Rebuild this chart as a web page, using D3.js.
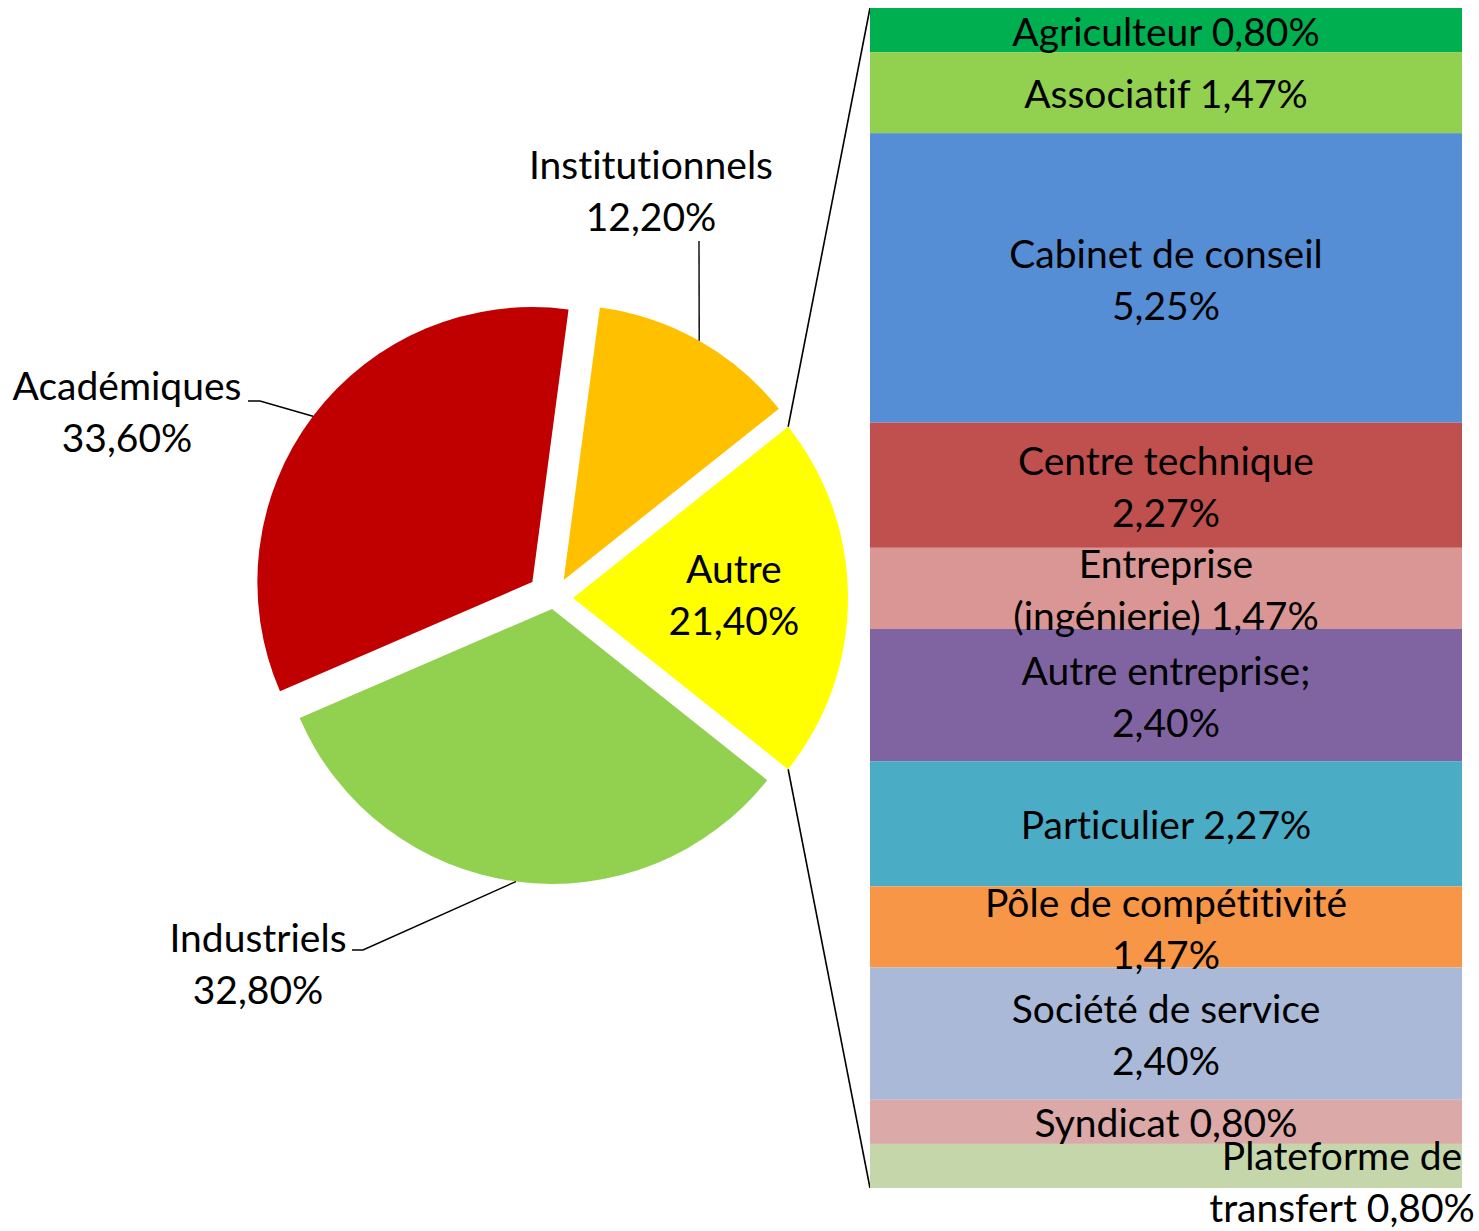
<!DOCTYPE html>
<html>
<head>
<meta charset="utf-8">
<script src="https://cdn.jsdelivr.net/npm/d3@7"></script>
<style>
  body { margin: 0; background: #fff; }
  text { font-family: Lato, "Open Sans", sans-serif; fill: #000; font-variant-ligatures: none; font-feature-settings: "liga" 0, "dlig" 0; }
</style>
</head>
<body>
<div id="chart"></div>
<script>
// pie part
var pieNames  = ["Académiques", "Institutionnels", "Autre", "Industriels"];
var pieValues = [33.60, 12.20, 21.40, 32.80];
var pieColors = ["#C00000", "#FFC000", "#FFFF00", "#92D050"];

// bar part (split of "Autre")
var barNames = ["Agriculteur", "Associatif", "Cabinet de conseil", "Centre technique",
  "Entreprise (ingénierie)", "Autre entreprise;", "Particulier", "Pôle de compétitivité",
  "Société de service", "Syndicat", "Plateforme de transfert"];
var barValues = [0.80, 1.47, 5.25, 2.27, 1.47, 2.40, 2.27, 1.47, 2.40, 0.80, 0.80];
var barColors = ["#00B050", "#92D050", "#558ED5", "#C0504D", "#D99694", "#8064A2",
  "#4BACC6", "#F79646", "#AAB9D7", "#DAA9A8", "#C5D7AA"];
var barBreakAfter = [0, 0, 3, 2, 1, 2, 0, 3, 3, 0, 2]; // words on first line, 0 = one line

var otherIndex = 2;

var width = 1479, height = 1231;
var fontSize = 39, lineH = 52;
var cx = 553.5, cy = 598, r = 275;
var explode = [26.5, 20.7, 19.5, 11];
var barLeft = 870, barRight = 1462, barTop = 8, barBottom = 1188;

var fmt = function(v) { return d3.format(".2f")(v).replace(".", ",") + "%"; };

var svg = d3.select("#chart").append("svg")
    .attr("width", width)
    .attr("height", height);

// rotate the pie so that "Autre" sits at 3 o'clock
var total = d3.sum(pieValues);
var before = d3.sum(pieValues.slice(0, otherIndex));
var start = Math.PI / 2 - 2 * Math.PI * (before + pieValues[otherIndex] / 2) / total;

var pie = d3.pie().sort(null).value(function(d) { return d; })
    .startAngle(start).endAngle(start + 2 * Math.PI);
var arcs = pie(pieValues);
var arc = d3.arc().innerRadius(0).outerRadius(r);

// apex of every exploded slice
arcs.forEach(function(a, i) {
  var m = (a.startAngle + a.endAngle) / 2;
  a.mid = m;
  a.ox = cx + explode[i] * Math.sin(m);
  a.oy = cy - explode[i] * Math.cos(m);
});

svg.append("g").selectAll("path")
  .data(arcs)
  .enter().append("path")
    .attr("transform", function(d) { return "translate(" + d.ox + "," + d.oy + ")"; })
    .attr("d", arc)
    .attr("fill", function(d, i) { return pieColors[i]; });

// connector lines from the "Autre" slice to the bar
var oth = arcs[otherIndex];
var topPt = [oth.ox + r * Math.sin(oth.startAngle), oth.oy - r * Math.cos(oth.startAngle)];
var botPt = [oth.ox + r * Math.sin(oth.endAngle), oth.oy - r * Math.cos(oth.endAngle)];
svg.append("line").attr("x1", topPt[0]).attr("y1", topPt[1]).attr("x2", barLeft).attr("y2", barTop)
  .attr("stroke", "#000").attr("stroke-width", 1.6);
svg.append("line").attr("x1", botPt[0]).attr("y1", botPt[1]).attr("x2", barLeft).attr("y2", barBottom)
  .attr("stroke", "#000").attr("stroke-width", 1.6);

// bar stack
var y = d3.scaleLinear().domain([0, d3.sum(barValues)]).range([barTop, barBottom]);
var cum = [0].concat(Array.from(d3.cumsum(barValues)));

svg.append("g").selectAll("rect")
  .data(barValues)
  .enter().append("rect")
    .attr("x", barLeft)
    .attr("width", barRight - barLeft)
    .attr("y", function(d, i) { return y(cum[i]); })
    .attr("height", function(d, i) { return y(cum[i + 1]) - y(cum[i]); })
    .attr("fill", function(d, i) { return barColors[i]; });

function multiline(g, lines, x, midY) {
  var t = g.append("text").attr("text-anchor", "middle").style("font-size", fontSize + "px");
  var first = midY - (lines.length - 1) * lineH / 2 + fontSize * 0.35;
  lines.forEach(function(l, k) {
    t.append("tspan").attr("x", x).attr("y", first + k * lineH).text(l);
  });
  return t;
}

// bar labels
var barLabelShift = { 10: [176, 14] };
var labG = svg.append("g");
barValues.forEach(function(v, i) {
  var words = (barNames[i] + " " + fmt(v)).split(" ");
  var lines = barBreakAfter[i] ? [words.slice(0, barBreakAfter[i]).join(" "), words.slice(barBreakAfter[i]).join(" ")]
                               : [words.join(" ")];
  var sh = barLabelShift[i] || [0, 0];
  var mid = (y(cum[i]) + y(cum[i + 1])) / 2 + 2;
  multiline(labG, lines, (barLeft + barRight) / 2 + sh[0], mid + sh[1]);
});

// pie labels: outside ones with leader lines
var pieLabel = {
  0: { x: 127, y: 412, path: [[248, 401], [260, 401]] },
  1: { x: 651, y: 191, path: [[699, 241]] },
  3: { x: 258, y: 964, path: [[352, 950], [363, 950]] }
};
arcs.forEach(function(a, i) {
  var lines = [pieNames[i], fmt(pieValues[i])];
  if (i === otherIndex) {
    multiline(svg, lines, a.ox + 0.585 * r, a.oy - 3);
    return;
  }
  var L = pieLabel[i];
  multiline(svg, lines, L.x, L.y);
  var edge = [a.ox + r * Math.sin(a.mid), a.oy - r * Math.cos(a.mid)];
  svg.append("path")
    .attr("d", d3.line()(L.path.concat([edge])))
    .attr("fill", "none").attr("stroke", "#000").attr("stroke-width", 1.4);
});
</script>
</body>
</html>
